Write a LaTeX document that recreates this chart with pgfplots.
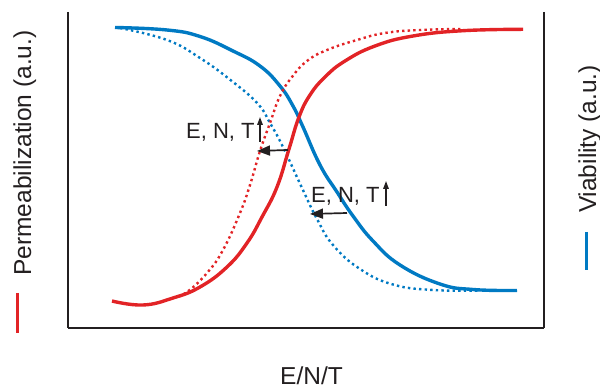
\documentclass[border=0pt]{standalone}
\usepackage{pgfplots}
\pgfplotsset{compat=1.18}
\usepackage{fontspec}
\setmainfont{Liberation Sans}
\usetikzlibrary{arrows.meta}
\definecolor{cblue}{RGB}{0,122,195}
\definecolor{cred}{RGB}{226,35,38}
\definecolor{ink}{RGB}{35,31,32}
\begin{document}
\begin{tikzpicture}
\begin{axis}[
  at={(68pt,62pt)}, anchor=south west,
  scale only axis, width=476pt, height=316pt,
  xmin=68, xmax=544, ymin=12, ymax=328, y dir=reverse,
  axis x line=bottom, axis y line=box,
  axis line style={-, line width=2pt, ink},
  xtick=\empty, ytick=\empty,
  clip=false,
]
% viability, solid
\addplot[cblue, line width=3.4pt, smooth, tension=0.75] coordinates {
(115,27.5) (167,30) (200,36.5) (233,51) (260,66) (280,86) (293,106) (303,127) (320,165) (337,192) (353,216) (373,241) (400,265) (440,284) (473,289.5) (517,290.5)};
% viability, dotted
\addplot[cblue, line width=2.4pt, dash pattern=on 2.4pt off 3.2pt, smooth, tension=0.75] coordinates {
(120,28) (167,40) (200,58) (233,82) (258,104) (270,123) (283,147) (302,188) (317,219) (333,245) (360,269) (393,284.5) (433,290) (480,290.5)};
% permeabilization, solid
\addplot[cred, line width=3.4pt, smooth, tension=0.75] coordinates {
(112,301) (143,305) (173,298) (200,287) (227,267) (247,243) (262,217) (277,187) (289,149) (299,117) (310,95) (325,77) (345,61) (375,46) (413,36) (463,30.7) (523,29.3)};
% permeabilization, dotted
\addplot[cred, line width=2.4pt, dash pattern=on 2.4pt off 3.2pt, smooth, tension=0.75] coordinates {
(173,298) (187,292) (207,273) (223,250) (240,213) (250,185) (260,151) (270,123) (280,96) (292,77) (307,61) (327,50) (357,40) (385,33) (420,30) (463,29)};
% annotations
\node[anchor=base west, inner sep=0pt, font=\fontsize{22}{26}\selectfont, text=ink] at (axis cs:186,139) {E, N, T};
\node[anchor=base west, inner sep=0pt, font=\fontsize{22}{26}\selectfont, text=ink] at (axis cs:311,203) {E, N, T};
\coordinate (u1a) at (axis cs:260,142);
\coordinate (u1b) at (axis cs:260,117);
\coordinate (h1a) at (axis cs:288,150);
\coordinate (h1b) at (axis cs:257,151);
\coordinate (u2a) at (axis cs:386,206);
\coordinate (u2b) at (axis cs:386,181);
\coordinate (h2a) at (axis cs:347,213);
\coordinate (h2b) at (axis cs:310,214);
\end{axis}
\draw[ink, line width=1.5pt, -{Triangle[length=8pt,width=5.5pt]}] (u1a) -- (u1b);
\draw[ink, line width=1.7pt, -{Triangle[length=13pt,width=10pt]}] (h1a) -- (h1b);
\draw[ink, line width=1.5pt, -{Triangle[length=8pt,width=5.5pt]}] (u2a) -- (u2b);
\draw[ink, line width=1.7pt, -{Triangle[length=13pt,width=10pt]}] (h2a) -- (h2b);
% axis labels with colour keys
\node[rotate=90, anchor=base, inner sep=0pt, font=\fontsize{24.5}{28}\selectfont, text=ink] at (31pt,237pt) {Permeabilization (a.u.)};
\draw[cred, line width=3pt] (17.7pt,97pt) -- (17.7pt,57pt);
\node[rotate=90, anchor=base, inner sep=0pt, font=\fontsize{24.5}{28}\selectfont, text=ink] at (596pt,251pt) {Viability (a.u.)};
\draw[cblue, line width=3pt] (586.7pt,158pt) -- (586.7pt,120pt);
\node[anchor=base, inner sep=0pt, font=\fontsize{24.5}{28}\selectfont, text=ink] at (311.5pt,5pt) {E/N/T};
\pgfresetboundingbox
\path (0,0) rectangle (600pt,390pt);
\end{tikzpicture}
\end{document}
